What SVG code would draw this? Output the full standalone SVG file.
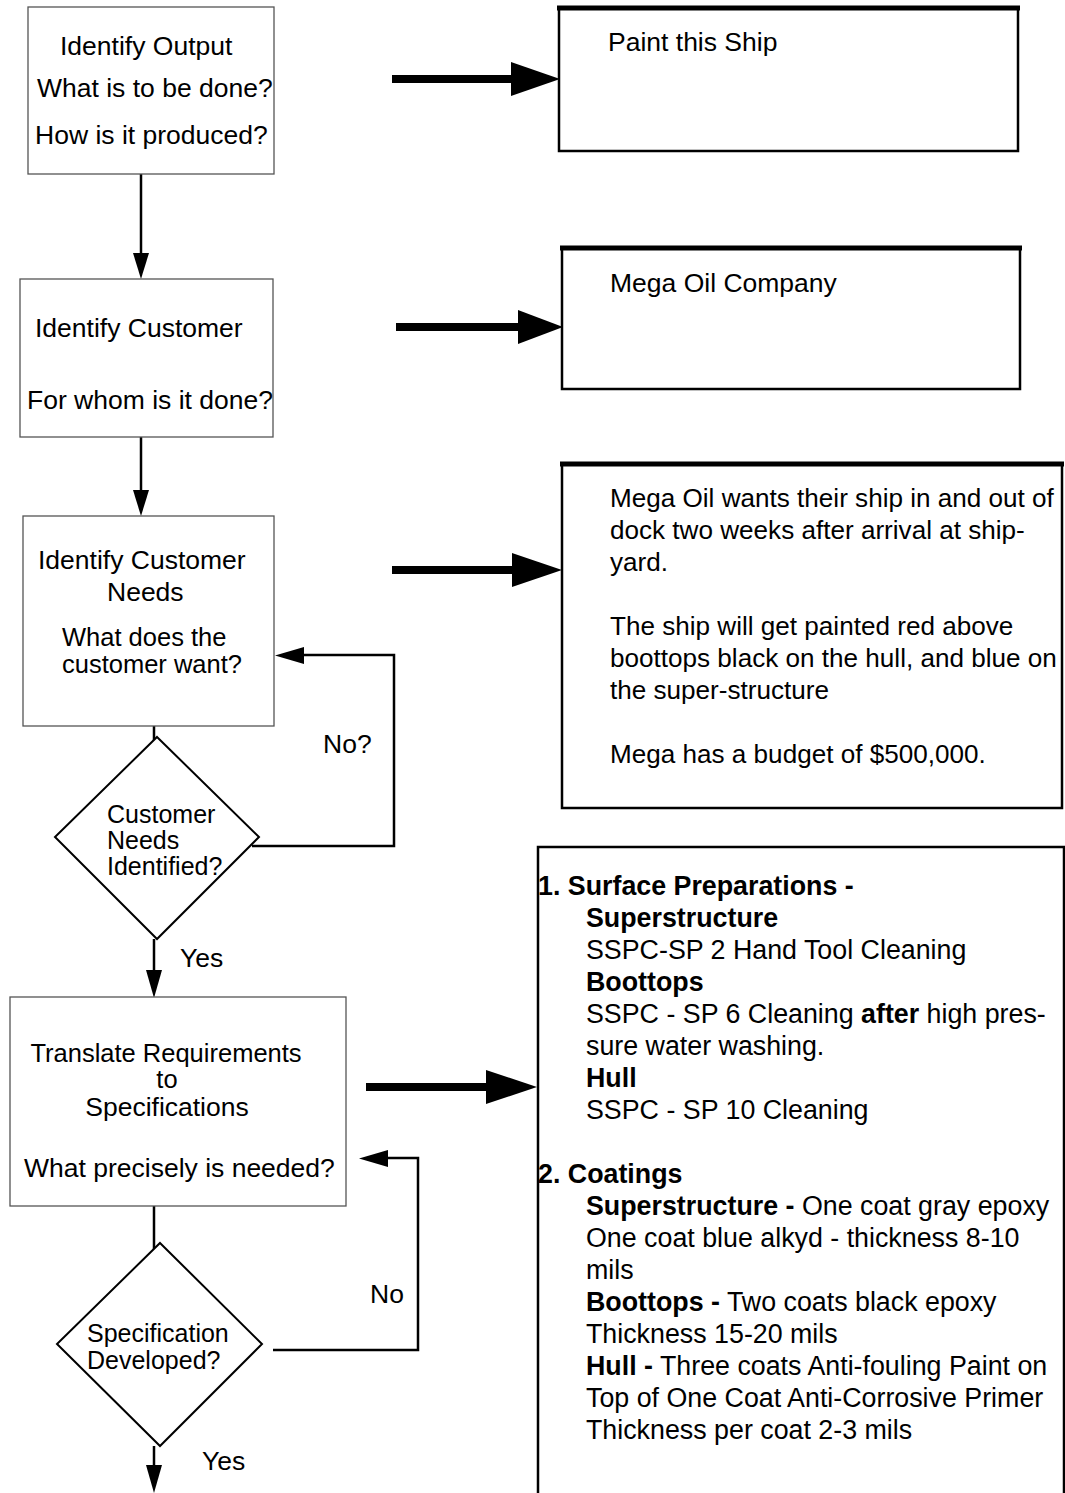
<svg xmlns="http://www.w3.org/2000/svg" width="1065" height="1493" viewBox="0 0 1065 1493">
  <style>
    text { font-family: "Liberation Sans", Arial, Helvetica, sans-serif; font-size: 26.5px; fill: #000; }
    .b { font-weight: bold; }
    .dq { font-size: 25px; }
    .tight { font-size: 25.5px; }
    .spec text { font-size: 26.8px; }
    .needs text { font-size: 26.1px; }
    .step { fill: #fff; stroke: #555; stroke-width: 1.3; }
    .note { fill: #fff; stroke: #000; stroke-width: 2.5; }
    .topedge { stroke: #000; stroke-width: 5; }
    .decision { fill: #fff; stroke: #000; stroke-width: 2; }
    .flow { fill: none; stroke: #000; stroke-width: 2.5; }
    .thick { fill: none; stroke: #000; stroke-width: 8; }
    .head { fill: #000; stroke: none; }
  </style>

  <!-- connectors -->
  <g id="connectors">
    <!-- output -> customer -->
    <line class="flow" x1="141" y1="174" x2="141" y2="256"/>
    <polygon class="head" points="133,253 149,253 141,279"/>
    <!-- customer -> needs -->
    <line class="flow" x1="141" y1="437" x2="141" y2="492"/>
    <polygon class="head" points="133,490 149,490 141,516"/>
    <!-- needs -> decision 1 -->
    <line class="flow" x1="154" y1="722" x2="154" y2="742"/>
    <!-- decision 1: No? loop back -->
    <polyline class="flow" points="252,846 394,846 394,655 300,655"/>
    <polygon class="head" points="304,647 304,664 275,655.5"/>
    <!-- decision 1: Yes -->
    <line class="flow" x1="154" y1="939" x2="154" y2="972"/>
    <polygon class="head" points="146,970 162,970 154,998"/>
    <!-- translate -> decision 2 -->
    <line class="flow" x1="154" y1="1205" x2="154" y2="1255"/>
    <!-- decision 2: No loop back -->
    <polyline class="flow" points="273,1350 418,1350 418,1158 385,1158"/>
    <polygon class="head" points="388,1150 388,1167 359,1158.5"/>
    <!-- decision 2: Yes -->
    <line class="flow" x1="154" y1="1446" x2="154" y2="1467"/>
    <polygon class="head" points="146,1465 162,1465 154,1493"/>

    <!-- thick arrows to the example boxes -->
    <line class="thick" x1="392" y1="79" x2="515" y2="79"/>
    <polygon class="head" points="511,62 560,79 511,96"/>
    <line class="thick" x1="396" y1="327" x2="522" y2="327"/>
    <polygon class="head" points="518,310 563,327 518,344"/>
    <line class="thick" x1="392" y1="570" x2="516" y2="570"/>
    <polygon class="head" points="512,553 562,570 512,587"/>
    <line class="thick" x1="366" y1="1087" x2="490" y2="1087"/>
    <polygon class="head" points="486,1070 537,1087 486,1104"/>
  </g>

  <!-- process steps -->
  <g id="identify-output">
    <rect class="step" x="28" y="7" width="246" height="167"/>
    <text x="60" y="55">Identify Output</text>
    <text x="37" y="97">What is to be done?</text>
    <text x="35" y="144">How is it produced?</text>
  </g>

  <g id="identify-customer">
    <rect class="step" x="20" y="279" width="253" height="158"/>
    <text x="35" y="337">Identify Customer</text>
    <text x="27" y="409">For whom is it done?</text>
  </g>

  <g id="identify-needs">
    <rect class="step" x="23" y="516" width="251" height="210"/>
    <text x="38" y="569">Identify Customer</text>
    <text x="107" y="601">Needs</text>
    <text class="tight" x="62" y="646">What does the</text>
    <text class="tight" x="62" y="673">customer want?</text>
  </g>

  <g id="needs-identified">
    <polygon class="decision" points="157,737 259,837 157,939 55,837"/>
    <text class="dq" x="107" y="823">Customer</text>
    <text class="dq" x="107" y="849">Needs</text>
    <text class="dq" x="107" y="875">Identified?</text>
  </g>

  <g id="translate">
    <rect class="step" x="10" y="997" width="336" height="209"/>
    <text class="tight" x="166" y="1062" text-anchor="middle">Translate Requirements</text>
    <text class="tight" x="167" y="1088" text-anchor="middle">to</text>
    <text x="167" y="1116" text-anchor="middle">Specifications</text>
    <text x="24" y="1177">What precisely is needed?</text>
  </g>

  <g id="spec-developed">
    <polygon class="decision" points="160,1243 262,1344 160,1446 57,1344"/>
    <text class="dq" x="87" y="1342">Specification</text>
    <text class="dq" x="87" y="1369">Developed?</text>
  </g>

  <!-- branch labels -->
  <g id="labels">
    <text x="323" y="753">No?</text>
    <text x="180" y="967">Yes</text>
    <text x="370" y="1303">No</text>
    <text x="202" y="1470">Yes</text>
  </g>

  <!-- example boxes -->
  <g id="output-example">
    <rect class="note" x="559" y="8" width="459" height="143"/>
    <line class="topedge" x1="557" y1="8" x2="1020" y2="8"/>
    <text x="608" y="51">Paint this Ship</text>
  </g>

  <g id="customer-example">
    <rect class="note" x="562" y="248" width="458" height="141"/>
    <line class="topedge" x1="560" y1="248" x2="1022" y2="248"/>
    <text x="610" y="292">Mega Oil Company</text>
  </g>

  <g id="needs-example" class="needs">
    <rect class="note" x="562" y="464" width="500" height="344"/>
    <line class="topedge" x1="560" y1="464" x2="1064" y2="464"/>
    <text x="610" y="507">Mega Oil wants their ship in and out of</text>
    <text x="610" y="539">dock two weeks after arrival at ship-</text>
    <text x="610" y="571">yard.</text>
    <text x="610" y="635">The ship will get painted red above</text>
    <text x="610" y="667">boottops black on the hull, and blue on</text>
    <text x="610" y="699">the super-structure</text>
    <text x="610" y="763">Mega has a budget of $500,000.</text>
  </g>

  <g id="spec-example" class="spec">
    <rect class="note" x="538" y="847" width="526" height="700"/>
    <text x="538" y="895" class="b">1. Surface Preparations -</text>
    <text x="586" y="927" class="b">Superstructure</text>
    <text x="586" y="959">SSPC-SP 2 Hand Tool Cleaning</text>
    <text x="586" y="991" class="b">Boottops</text>
    <text x="586" y="1023">SSPC - SP 6 Cleaning <tspan class="b">after</tspan> high pres-</text>
    <text x="586" y="1055">sure water washing.</text>
    <text x="586" y="1087" class="b">Hull</text>
    <text x="586" y="1119">SSPC - SP 10 Cleaning</text>
    <text x="538" y="1183" class="b">2. Coatings</text>
    <text x="586" y="1215"><tspan class="b">Superstructure -</tspan> One coat gray epoxy</text>
    <text x="586" y="1247">One coat blue alkyd - thickness 8-10</text>
    <text x="586" y="1279">mils</text>
    <text x="586" y="1311"><tspan class="b">Boottops -</tspan> Two coats black epoxy</text>
    <text x="586" y="1343">Thickness 15-20 mils</text>
    <text x="586" y="1375"><tspan class="b">Hull -</tspan> Three coats Anti-fouling Paint on</text>
    <text x="586" y="1407">Top of One Coat Anti-Corrosive Primer</text>
    <text x="586" y="1439">Thickness per coat 2-3 mils</text>
  </g>
</svg>
